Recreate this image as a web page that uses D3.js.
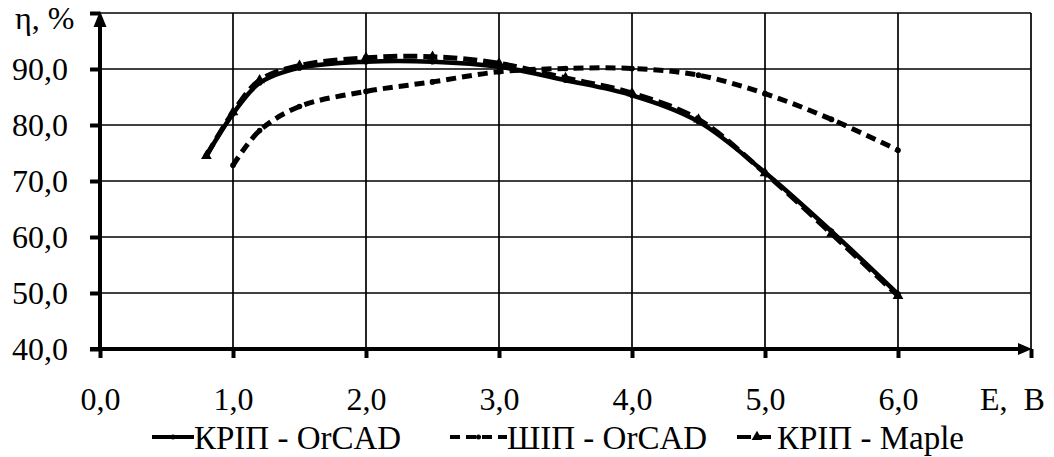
<!DOCTYPE html>
<html>
<head>
<meta charset="utf-8">
<script src="https://cdn.jsdelivr.net/npm/d3@7"></script>
<style>
  html, body { margin: 0; padding: 0; background: #fff; }
  svg { display: block; }
  text { font-family: "Liberation Serif", "Times New Roman", Times, serif; fill: #000; }
</style>
</head>
<body>
<svg id="chart" width="1054" height="457"></svg>
<script>
// ---- data ----
const eKrip = [0.8, 1.0, 1.2, 1.5, 2.0, 2.5, 3.0, 3.5, 4.0, 4.5, 5.0, 5.5, 6.0];
const kripOrcad = [74.5, 82.0, 87.5, 90.2, 91.3, 91.3, 90.4, 88.0, 85.3, 80.6, 71.5, 61.0, 49.8];
const kripMaple = [74.5, 82.3, 88.0, 90.6, 92.0, 92.2, 91.0, 88.4, 85.7, 81.0, 71.4, 60.6, 49.5];
const eShip = [1.0, 1.2, 1.5, 2.0, 2.5, 3.0, 3.5, 4.0, 4.5, 5.0, 5.5, 6.0];
const shipOrcad = [72.8, 79.0, 83.3, 86.0, 87.7, 89.5, 90.1, 90.1, 88.9, 85.6, 81.0, 75.5];
const xTicks = [0, 1, 2, 3, 4, 5, 6];
const yTicks = [40, 50, 60, 70, 80, 90];
const seriesNames = ["КРІП - OrCAD", "ШІП - OrCAD", "КРІП - Maple"];
const yTitle = "η, %";
const xTitle = "E,  B";

// ---- layout ----
const FONT = '"Liberation Serif", "Times New Roman", Times, serif';
const svg = d3.select("#chart");
const x = d3.scaleLinear().domain([0, 7]).range([100, 1031]);
const y = d3.scaleLinear().domain([40, 100]).range([349, 13]);
const fmt = v => d3.format(".1f")(v).replace(".", ",");

// gridlines
const grid = svg.append("g").attr("stroke", "#000").attr("stroke-width", 1.7);
grid.selectAll("line.h").data([50, 60, 70, 80, 90, 100]).join("line")
  .attr("x1", x(0)).attr("x2", x(7)).attr("y1", d => y(d)).attr("y2", d => y(d));
grid.selectAll("line.v").data([1, 2, 3, 4, 5, 6, 7]).join("line")
  .attr("x1", d => x(d)).attr("x2", d => x(d)).attr("y1", y(100)).attr("y2", y(40));

// axes ticks & labels
const yAxis = svg.append("g").attr("transform", `translate(${x(0)},0)`)
  .call(d3.axisLeft(y).tickValues([...yTicks, 100]).tickSize(10).tickPadding(22)
    .tickFormat(d => d === 100 ? "" : fmt(d)));
yAxis.attr("font-family", null).attr("font-size", null);
yAxis.select(".domain").remove();
yAxis.selectAll(".tick line").attr("stroke", "#000").attr("stroke-width", 4);
yAxis.selectAll(".tick text").style("font-family", FONT).style("font-size", "32px").attr("dy", "0.34em");

const xAxis = svg.append("g").attr("transform", `translate(0,${y(40)})`)
  .call(d3.axisBottom(x).tickValues([...xTicks, 7]).tickSize(9).tickPadding(0)
    .tickFormat(d => d === 7 ? "" : fmt(d)));
xAxis.attr("font-family", null).attr("font-size", null);
xAxis.select(".domain").remove();
xAxis.selectAll(".tick line").attr("stroke", "#000").attr("stroke-width", 4);
xAxis.selectAll(".tick text").style("font-family", FONT).style("font-size", "32px")
  .attr("y", 61).attr("dy", 0);

// axis lines with arrows
svg.append("line").attr("x1", x(0)).attr("x2", x(0)).attr("y1", y(40) + 2).attr("y2", y(100) + 6)
  .attr("stroke", "#000").attr("stroke-width", 4);
svg.append("path").attr("d", `M${x(0)},${y(100) - 2} L${x(0) - 6.5},${y(100) + 14} L${x(0) + 6.5},${y(100) + 14} Z`).attr("fill", "#000");
svg.append("line").attr("x1", x(0) - 10).attr("x2", x(7) - 8).attr("y1", y(40)).attr("y2", y(40))
  .attr("stroke", "#000").attr("stroke-width", 4);
svg.append("path").attr("d", `M${x(7) + 1},${y(40)} L${x(7) - 13},${y(40) - 6} L${x(7) - 13},${y(40) + 6} Z`).attr("fill", "#000");

// titles
svg.append("text").attr("x", 15).attr("y", 29).style("font-family", FONT).style("font-size", "32px").text(yTitle);
svg.append("text").attr("x", 980).attr("y", 410).style("font-family", FONT).style("font-size", "32px")
  .style("white-space", "pre").text(xTitle);

// series
const line = d3.line().x(d => x(d[0])).y(d => y(d[1])).curve(d3.curveCatmullRom.alpha(0.5));
const zip = (a, b) => a.map((v, i) => [v, b[i]]);

const ship = zip(eShip, shipOrcad);
const krip = zip(eKrip, kripOrcad);
const maple = zip(eKrip, kripMaple);

svg.append("path").attr("d", line(ship)).attr("fill", "none").attr("stroke", "#000")
  .attr("stroke-width", 5).attr("stroke-dasharray", "10,6");
svg.append("path").attr("d", line(maple)).attr("fill", "none").attr("stroke", "#000")
  .attr("stroke-width", 5).attr("stroke-dasharray", "14,6");
svg.append("path").attr("d", line(krip)).attr("fill", "none").attr("stroke", "#000")
  .attr("stroke-width", 4.5).attr("stroke-linecap", "round");

// markers
svg.append("g").selectAll("circle").data(krip).join("circle")
  .attr("cx", d => x(d[0])).attr("cy", d => y(d[1])).attr("r", 2.8).attr("fill", "#000");
svg.append("g").selectAll("circle").data(ship).join("circle")
  .attr("cx", d => x(d[0])).attr("cy", d => y(d[1])).attr("r", 2.8).attr("fill", "#000");
const tri = d3.symbol().type(d3.symbolTriangle).size(50);
svg.append("g").selectAll("path").data(maple).join("path")
  .attr("transform", d => `translate(${x(d[0])},${y(d[1])})`).attr("d", tri).attr("fill", "#000");

// legend
const legendItems = [
  { name: seriesNames[0], x1: 152, x2: 194, dash: null, mark: "dot" },
  { name: seriesNames[1], x1: 450, x2: 507, dash: "10,6", mark: "dot" },
  { name: seriesNames[2], x1: 737, x2: 777, dash: "14,6", mark: "tri" }
];
const ly = 437;
const lg = svg.append("g");
legendItems.forEach(it => {
  lg.append("line").attr("x1", it.x1).attr("x2", it.x2).attr("y1", ly).attr("y2", ly)
    .attr("stroke", "#000").attr("stroke-width", 4).attr("stroke-dasharray", it.dash);
  const cx = (it.x1 + it.x2) / 2;
  if (it.mark === "dot") lg.append("circle").attr("cx", cx).attr("cy", ly).attr("r", 2.5).attr("fill", "#000");
  else lg.append("path").attr("transform", `translate(${cx},${ly})`).attr("d", tri).attr("fill", "#000");
  lg.append("text").attr("x", it.x2).attr("y", 449).style("font-family", FONT).style("font-size", "33px").text(it.name);
});
</script>
</body>
</html>
